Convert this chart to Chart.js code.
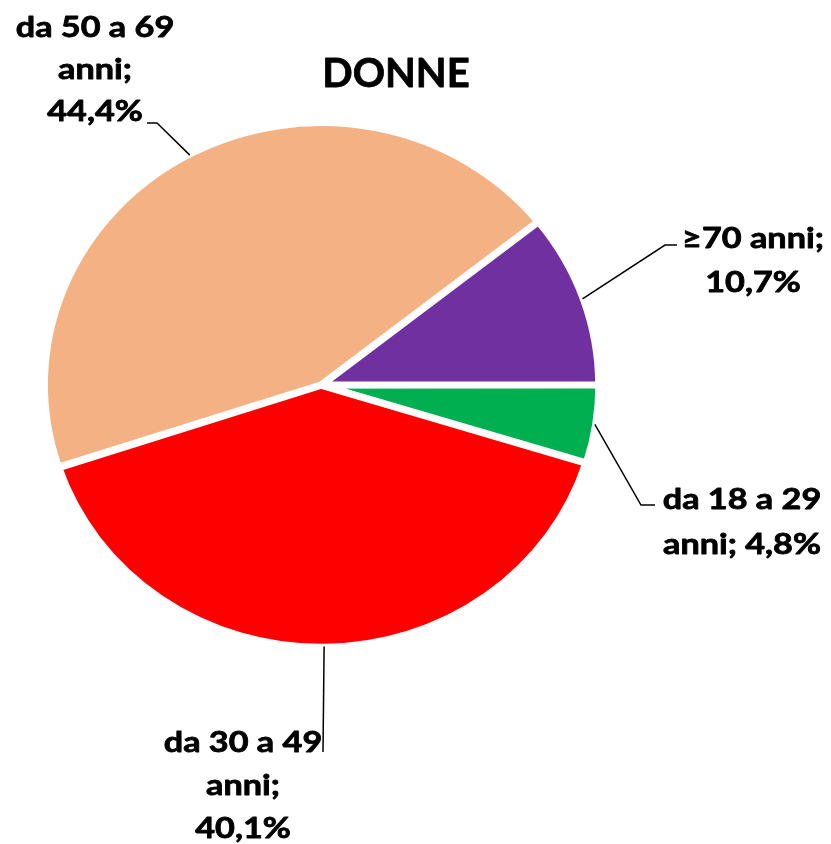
<!DOCTYPE html>
<html lang="it">
<head>
    <meta charset="UTF-8">
    <title>DONNE</title>
    <script src="https://cdn.jsdelivr.net/npm/chart.js"></script>
    <style>
        body { margin: 0; background: #fff; }
        canvas { display: block; }
    </style>
</head>
<body>
    <canvas id="pieChart" width="831" height="844"></canvas>

    <script>
        // data, clockwise from 3 o'clock
        const categories = ['da 18 a 29 anni', 'da 30 a 49 anni', 'da 50 a 69 anni', '≥70 anni'];
        const percentages = [4.8, 40.1, 44.4, 10.7];
        const sliceColors = ['#00B050', '#FF0000', '#F4B183', '#7030A0'];
        const chartTitle = 'DONNE';

        // label placement (text lines, centre x, first baseline, leader points on the text side)
        const labelLines = [
            ['da 18 a 29', 'anni; 4,8%'],
            ['da 30 a 49', 'anni;', '40,1%'],
            ['da 50 a 69', 'anni;', '44,4%'],
            ['≥70 anni;', '10,7%']
        ];
        const labelBoxes = [
            { x: 742, y: 509, lh: 45, leader: [[655, 505], [641, 505]] },
            { x: 243, y: 752, lh: 43, leader: [[323, 752]] },
            { x: 95, y: 37, lh: 42, leader: [[147, 123], [157, 123]] },
            { x: 753, y: 248, lh: 44, leader: [[677, 245], [665, 245]] }
        ];

        const yScale = 0.9455; // the pie is a little flatter than a circle

        function fillStretched(ctx, str, x, y, sx) {
            ctx.save();
            ctx.translate(x, y);
            ctx.scale(sx, 1);
            ctx.fillText(str, 0, 0);
            ctx.strokeText(str, 0, 0); // a touch heavier, like the original bold
            ctx.restore();
        }

        const ellipsePlugin = {
            id: 'ellipse',
            beforeDatasetsDraw(chart) {
                const arc = chart.getDatasetMeta(0).data[0];
                const ctx = chart.ctx;
                ctx.save();
                ctx.translate(arc.x, arc.y);
                ctx.scale(1, yScale);
                ctx.translate(-arc.x, -arc.y);
            },
            afterDatasetsDraw(chart) {
                chart.ctx.restore();
            }
        };

        const labelPlugin = {
            id: 'pieLabels',
            afterDraw(chart) {
                const ctx = chart.ctx;
                const arcs = chart.getDatasetMeta(0).data;
                ctx.save();
                ctx.strokeStyle = '#000';
                ctx.lineWidth = 1.5;
                arcs.forEach((arc, i) => {
                    const p = arc.getProps(['x', 'y', 'startAngle', 'endAngle', 'outerRadius']);
                    const mid = (p.startAngle + p.endAngle) / 2;
                    const r = p.outerRadius + (arc.options.offset || 0) - 2;
                    const ex = p.x + Math.cos(mid) * r;
                    const ey = p.y + Math.sin(mid) * r * yScale;
                    const box = labelBoxes[i];
                    ctx.beginPath();
                    ctx.moveTo(box.leader[0][0], box.leader[0][1]);
                    box.leader.slice(1).forEach(pt => ctx.lineTo(pt[0], pt[1]));
                    ctx.lineTo(ex, ey);
                    ctx.stroke();
                });

                ctx.fillStyle = '#000';
                ctx.lineWidth = 0.8;
                ctx.lineJoin = 'round';
                ctx.textAlign = 'center';
                ctx.textBaseline = 'alphabetic';
                ctx.font = 'bold 29px Lato, "DejaVu Sans", sans-serif';
                labelLines.forEach((lines, i) => {
                    const box = labelBoxes[i];
                    lines.forEach((line, j) => {
                        fillStretched(ctx, line, box.x, box.y + j * box.lh, 1.18);
                    });
                });

                ctx.font = 'bold 40px Lato, "DejaVu Sans", sans-serif';
                fillStretched(ctx, chartTitle, 396, 87, 1.0);
                ctx.restore();
            }
        };

        new Chart(document.getElementById('pieChart'), {
            type: 'pie',
            data: {
                labels: categories,
                datasets: [{
                    data: percentages,
                    backgroundColor: sliceColors,
                    borderColor: '#fff',
                    borderWidth: 7,
                    offset: 2
                }]
            },
            options: {
                responsive: false,
                animation: false,
                events: [],
                rotation: 90,
                layout: { padding: { left: 40.5, right: 228.5, top: 104, bottom: 178 } },
                plugins: {
                    legend: { display: false },
                    tooltip: { enabled: false }
                }
            },
            plugins: [ellipsePlugin, labelPlugin]
        });
    </script>
</body>
</html>
